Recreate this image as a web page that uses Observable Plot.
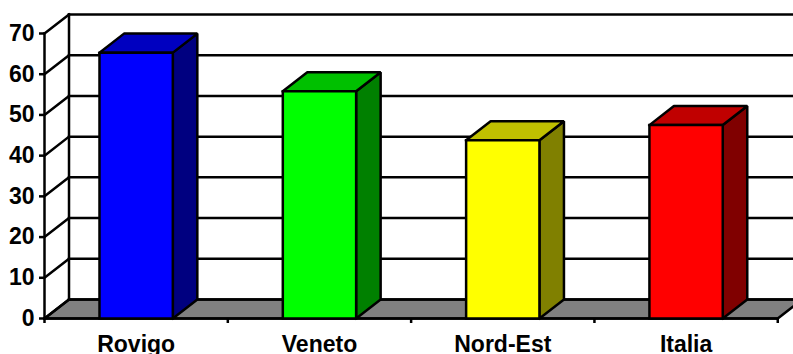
<!DOCTYPE html>
<html>
<head>
<meta charset="utf-8">
<style>
  html, body { margin: 0; padding: 0; background: #fff; overflow: hidden; }
  svg { display: block; }
</style>
<script src="https://cdn.jsdelivr.net/npm/d3@7"></script>
<script src="https://cdn.jsdelivr.net/npm/@observablehq/plot@0.6"></script>
</head>
<body>
<script>
// Chart values
const categories = ["Rovigo", "Veneto", "Nord-Est", "Italia"];
const values = [65.3, 55.8, 43.8, 47.5];
const frontColors = ["#0000ff", "#00ff00", "#ffff00", "#ff0000"];
const topColors = ["#0000c0", "#00c000", "#c0c000", "#c00000"];
const sideColors = ["#000080", "#008000", "#808000", "#800000"];
const yTicks = [0, 10, 20, 30, 40, 50, 60, 70];
const xTicks = [0, 1, 2, 3, 4];

// Oblique projection offset of the 3D box, in axis units, and bar inset in a category
const depthX = 0.1337, depthY = 4.67;
const barInset = 0.3;

// Closed polygon as a list of vertices tagged with a face id and fill
const polygon = (id, fill, pts) =>
  [...pts, pts[0]].map(([x, y]) => ({x, y, id, fill}));

const floor = polygon("floor", "#808080", [
  [0, 0], [4, 0], [4 + depthX, depthY], [depthX, depthY]
]);

const bars = categories.flatMap((name, i) => {
  const x0 = i + barInset, x1 = i + 1 - barInset, v = values[i];
  return [
    ...polygon(name + "-side", sideColors[i], [
      [x1, 0], [x1 + depthX, depthY], [x1 + depthX, v + depthY], [x1, v]
    ]),
    ...polygon(name + "-top", topColors[i], [
      [x0, v], [x1, v], [x1 + depthX, v + depthY], [x0 + depthX, v + depthY]
    ]),
    ...polygon(name + "-front", frontColors[i], [
      [x0, 0], [x1, 0], [x1, v], [x0, v]
    ])
  ];
});

// Wall lines: a back gridline and a diagonal for each level, plus the two uprights
const wallLines = [
  ...yTicks.flatMap(v => [
    {x: 0, y: v, id: "d" + v},
    {x: depthX, y: v + depthY, id: "d" + v},
    {x: depthX, y: v + depthY, id: "g" + v},
    {x: 4 + depthX, y: v + depthY, id: "g" + v}
  ]),
  {x: 0, y: 0, id: "front"}, {x: 0, y: 70, id: "front"},
  {x: depthX, y: depthY, id: "back"}, {x: depthX, y: 70 + depthY, id: "back"},
  {x: 0, y: 0, id: "base"}, {x: 4, y: 0, id: "base"}
];

const lineStyle = {stroke: "#000", strokeWidth: 2.5, strokeLinejoin: "miter", strokeLinecap: "square"};

const chart = Plot.plot({
  width: 793,
  height: 354,
  marginLeft: 44,
  marginRight: 15.75,
  marginTop: 33,
  marginBottom: 36,
  style: {background: "#fff", fontFamily: "'Liberation Sans', Arial, sans-serif"},
  x: {type: "linear", domain: [0, 4]},
  y: {type: "linear", domain: [0, 70]},
  marks: [
    Plot.line(floor, {x: "x", y: "y", z: "id", fill: "fill", ...lineStyle}),
    Plot.line(wallLines, {x: "x", y: "y", z: "id", ...lineStyle}),
    Plot.line(bars, {x: "x", y: "y", z: "id", fill: "fill", ...lineStyle}),
    Plot.axisY({
      ticks: yTicks, tickSize: 5, tickPadding: 5, strokeWidth: 2.5,
      fontSize: 23, fontWeight: "bold", fill: "#000", label: null
    }),
    Plot.axisX({ticks: xTicks, tickSize: 5, strokeWidth: 2.5, tickFormat: () => "", label: null}),
    Plot.text(categories, {
      x: (d, i) => i + 0.5, y: 0, text: d => d, dy: 26,
      lineAnchor: "middle", fontSize: 23, fontWeight: "bold", fill: "#000"
    })
  ]
});
document.body.appendChild(chart);
</script>
</body>
</html>
